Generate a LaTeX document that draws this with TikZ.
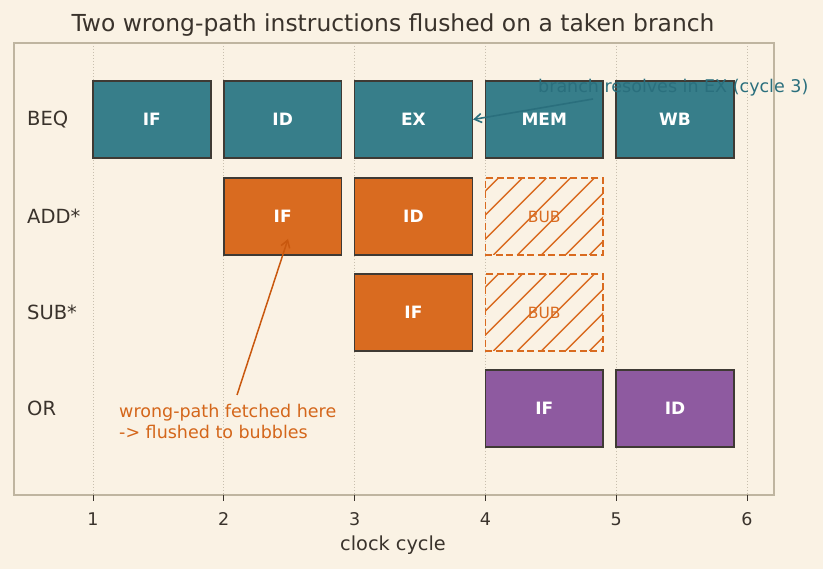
\documentclass[tikz,border=0pt]{standalone}
\usepackage{fontspec}
\setmainfont{DejaVu Sans}
\usetikzlibrary{arrows.meta}
\definecolor{bg}{HTML}{FAF2E4}
\definecolor{frame}{HTML}{BFB5A0}
\definecolor{gridc}{HTML}{C8BFAE}
\definecolor{ink}{HTML}{3A332C}
\definecolor{edgec}{HTML}{3F3A34}
\definecolor{teal}{HTML}{377E8A}
\definecolor{orng}{HTML}{D96B20}
\definecolor{orngarrow}{HTML}{C9580E}
\definecolor{purp}{HTML}{8E5AA0}
\definecolor{tealtxt}{HTML}{2A6F7D}
\definecolor{orngtxt}{HTML}{D4661A}
\tikzset{
  stagebox/.style={draw=edgec, line width=1.6pt, minimum width=117.7pt, minimum height=77pt,
    inner sep=0pt, text=white, font=\fontsize{17}{20}\selectfont\bfseries},
  bubbox/.style={draw=orng, dash pattern=on 7pt off 3.5pt, line width=1.6pt, minimum width=117.7pt, minimum height=77pt,
    inner sep=0pt, text=orng, font=\fontsize{15.5}{18}\selectfont},
  rowlabel/.style={anchor=west, inner sep=0pt, text=ink, font=\fontsize{19.5}{22}\selectfont},
  ticklabel/.style={text=ink, font=\fontsize{17.5}{20}\selectfont},
}
\begin{document}
\begin{tikzpicture}[x=1pt,y=-1pt]
\fill[bg] (0,0) rectangle (823,569);
\useasboundingbox (0,0) rectangle (823,569);
% grid
\foreach \i in {0,...,5} {
  \draw[gridc, line width=1pt, dotted] ({93+\i*130.8},43) -- ({93+\i*130.8},495);
}
% frame
\draw[frame, line width=1.3pt] (14,43) rectangle (774,495);
% ticks
\foreach \i in {1,...,6} {
  \draw[ink, line width=1pt] ({93+(\i-1)*130.8},495) -- ({93+(\i-1)*130.8},501);
  \node[ticklabel] (tick\i) at ({93+(\i-1)*130.8},519) {\i};
}
\node[text=ink, font=\fontsize{19.3}{22}\selectfont] (xlabel) at (393,545) {clock cycle};
\node[text=ink, font=\fontsize{23.4}{27}\selectfont] (title) at (393,25) {Two wrong-path instructions flushed on a taken branch};
% row labels
\node[rowlabel] (lBEQ) at (27,120) {BEQ};
\node[rowlabel] (lADD) at (27,216) {ADD*};
\node[rowlabel] (lSUB) at (27,312) {SUB*};
\node[rowlabel] (lOR) at (27,408) {OR};
% bubbles with hatch
\foreach \yc/\nm in {216.5/addBUB, 312.5/subBUB} {
  \begin{scope}
    \clip ({93+3*130.8},{\yc-38.5}) rectangle ({93+3*130.8+117.7},{\yc+38.5});
    \foreach \k in {-5,...,6} {
      \draw[orng, line width=1.4pt] ({93+3*130.8+\k*24-40},{\yc+38.5}) -- ({93+3*130.8+\k*24+37},{\yc-38.5});
    }
  \end{scope}
  \node[bubbox] (\nm) at ({93+3*130.8+58.85},\yc) {BUB};
}
% BEQ
\node[stagebox, fill=teal] (beqIF) at ({93+0*130.8+58.85},119.5) {IF};
\node[stagebox, fill=teal] (beqID) at ({93+1*130.8+58.85},119.5) {ID};
\node[stagebox, fill=teal] (beqEX) at ({93+2*130.8+58.85},119.5) {EX};
\node[stagebox, fill=teal] (beqMEM) at ({93+3*130.8+58.85},119.5) {MEM};
\node[stagebox, fill=teal] (beqWB) at ({93+4*130.8+58.85},119.5) {WB};
% ADD
\node[stagebox, fill=orng] (addIF) at ({93+1*130.8+58.85},216.5) {IF};
\node[stagebox, fill=orng] (addID) at ({93+2*130.8+58.85},216.5) {ID};
% SUB
\node[stagebox, fill=orng] (subIF) at ({93+2*130.8+58.85},312.5) {IF};
% OR
\node[stagebox, fill=purp] (orIF) at ({93+3*130.8+58.85},408.5) {IF};
\node[stagebox, fill=purp] (orID) at ({93+4*130.8+58.85},408.5) {ID};
% annotations
\coordinate (tealfrom) at (593,99);
\draw[tealtxt, line width=1.6pt, -{Straight Barb[length=7pt,width=9pt]}] (tealfrom) -- (beqEX.east);
\node[anchor=base west, text=tealtxt, font=\fontsize{17.5}{20}\selectfont, inner sep=0pt] (tealnote) at (538,92.5) {branch resolves in EX (cycle 3)};
\coordinate (orngfrom) at (237,395);
\coordinate (orngto) at (288,239);
\draw[orngarrow, line width=1.5pt, -{Straight Barb[length=7pt,width=9pt]}] (orngfrom) -- (orngto);
\node[anchor=north west, align=left, text=orngtxt, font=\fontsize{17.5}{21}\selectfont, inner sep=0pt] (orngnote) at (119,404) {wrong-path fetched here\\-> flushed to bubbles};
\end{tikzpicture}
\end{document}
